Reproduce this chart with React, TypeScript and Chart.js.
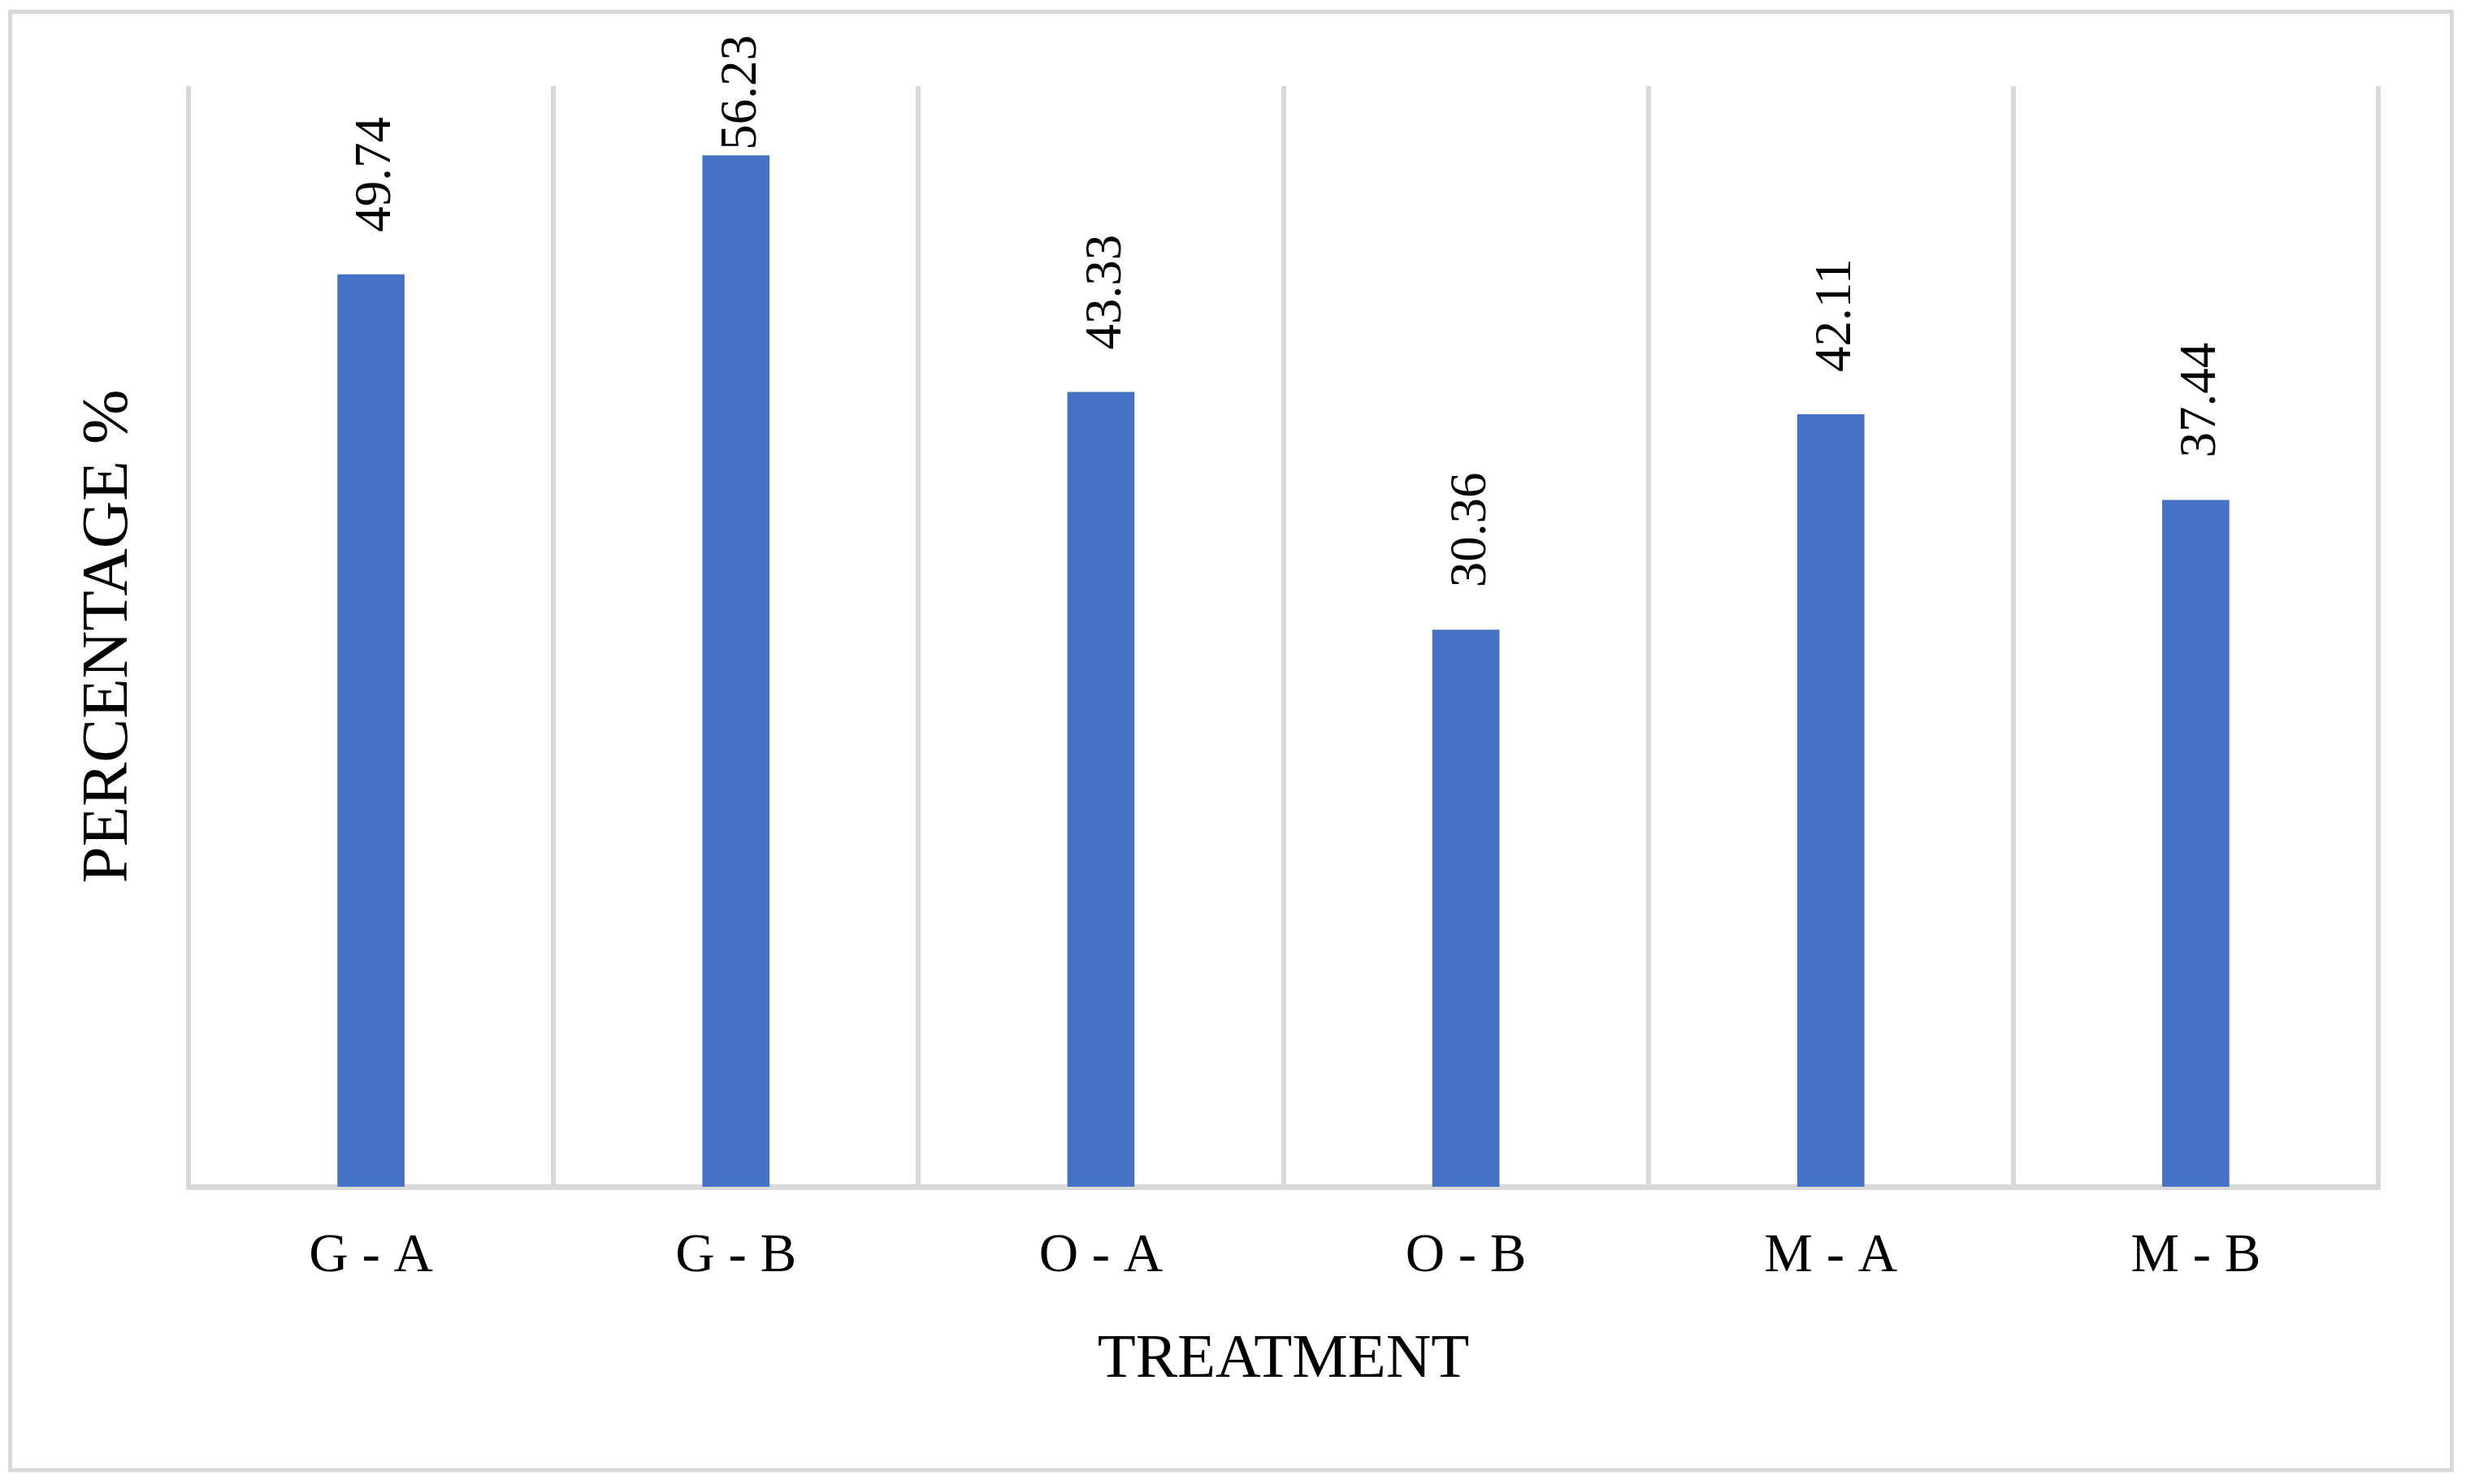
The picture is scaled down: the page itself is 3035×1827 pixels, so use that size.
import React, { useEffect, useRef } from "react";
import { Chart, registerables } from "chart.js";

Chart.register(...registerables);

const categories: string[] = ["G - A", "G - B", "O - A", "O - B", "M - A", "M - B"];
const percentages: number[] = [49.74, 56.23, 43.33, 30.36, 42.11, 37.44];
const valueLabels: string[] = ["49.74", "56.23", "43.33", "30.36", "42.11", "37.44"];
const xTitle = "TREATMENT";
const yTitle = "PERCENTAGE %";
const yMin = 0;
const yMax = 60;

const SERIF = "'Liberation Serif', 'Times New Roman', serif";
const GRID = "#d9d9d9";
const BAR = "#4472c4";

const framePlugin = {
  id: "frame",
  beforeDraw(chart: any) {
    const ctx = chart.ctx;
    ctx.save();
    ctx.fillStyle = "#ffffff";
    ctx.fillRect(0, 0, chart.width, chart.height);
    ctx.strokeStyle = GRID;
    ctx.lineWidth = 5;
    ctx.strokeRect(12.5, 14.5, 3005, 1795.5);
    ctx.restore();
  },
};

const valueLabelPlugin = {
  id: "valueLabels",
  afterDatasetsDraw(chart: any) {
    const ctx = chart.ctx;
    const meta = chart.getDatasetMeta(0);
    const fontSize = 63;
    ctx.save();
    ctx.font = `${fontSize}px ${SERIF}`;
    ctx.fillStyle = "#000000";
    ctx.textAlign = "left";
    ctx.textBaseline = "alphabetic";
    meta.data.forEach((bar: any, i: number) => {
      const text = valueLabels[i];
      const w = ctx.measureText(text).width;
      let anchorY = bar.y - 52;
      if (anchorY - w < 43) anchorY = 43 + w;
      const anchorX = bar.x + 3 + fontSize * 0.33;
      ctx.save();
      ctx.translate(anchorX, anchorY);
      ctx.rotate(-Math.PI / 2);
      ctx.fillText(text, 0, 0);
      ctx.restore();
    });
    ctx.restore();
  },
};

export default function App() {
  const canvasRef = useRef<HTMLCanvasElement | null>(null);

  useEffect(() => {
    if (!canvasRef.current) return;
    const chart = new Chart(canvasRef.current, {
      type: "bar",
      data: {
        labels: categories,
        datasets: [
          {
            data: percentages,
            backgroundColor: BAR,
            borderWidth: 0,
            barPercentage: 0.184,
            categoryPercentage: 1,
          },
        ],
      },
      options: {
        responsive: false,
        animation: false,
        devicePixelRatio: 1,
        layout: { padding: { left: 0, top: 106, right: 108, bottom: 0 } },
        plugins: {
          legend: { display: false },
          tooltip: { enabled: false },
          title: { display: false },
        },
        scales: {
          x: {
            offset: true,
            grid: {
              display: true,
              offset: true,
              color: GRID,
              lineWidth: 6,
              drawTicks: false,
            },
            border: { display: true, color: GRID, width: 7 },
            ticks: {
              color: "#000000",
              padding: 46,
              font: { family: SERIF, size: 67 },
              maxRotation: 0,
              autoSkip: false,
            },
            title: {
              display: true,
              text: xTitle,
              color: "#000000",
              font: { family: SERIF, size: 77 },
              padding: { top: 0, bottom: 106 },
            },
            afterFit(scale: any) {
              scale.height = 366;
            },
          },
          y: {
            min: yMin,
            max: yMax,
            grid: { display: false },
            border: { display: false },
            ticks: { display: false },
            title: {
              display: true,
              text: yTitle,
              color: "#000000",
              font: { family: SERIF, size: 81 },
              padding: { top: 86, bottom: 0 },
            },
            afterFit(scale: any) {
              scale.width = 232;
            },
          },
        },
      },
      plugins: [framePlugin, valueLabelPlugin],
    } as any);
    return () => chart.destroy();
  }, []);

  return (
    <div style={{ position: "absolute", left: 0, top: 0, width: 3035, height: 1827, background: "#ffffff" }}>
      <canvas ref={canvasRef} width={3035} height={1827} style={{ display: "block", width: 3035, height: 1827 }} />
    </div>
  );
}
